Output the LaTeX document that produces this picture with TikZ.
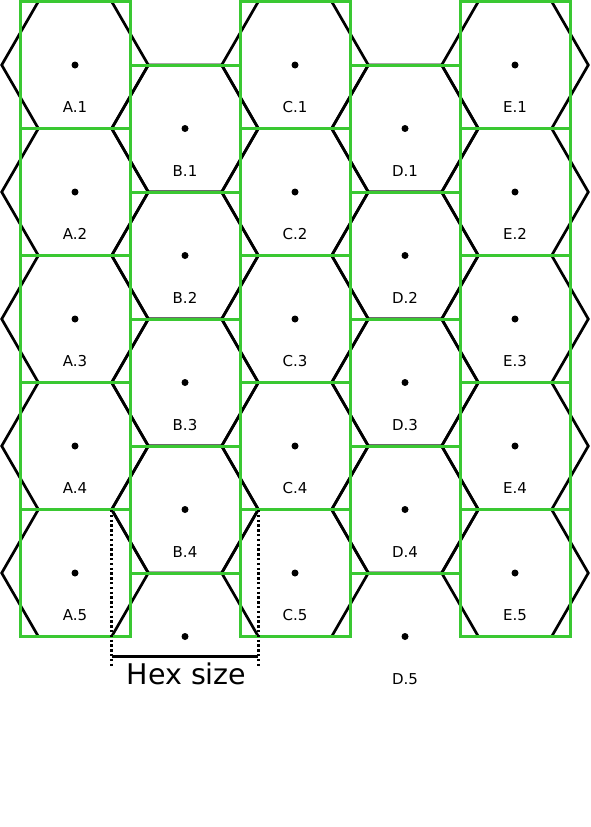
\documentclass[tikz,border=0pt]{standalone}
\usepackage{fontspec}
\setmainfont{DejaVu Sans}
\usetikzlibrary{calc}
\definecolor{gridgreen}{RGB}{58,200,50}

\begin{document}
\begin{tikzpicture}[x=1pt, y=-1pt,
    hexline/.style={draw=black, line width=2.7pt, line join=miter},
    cellbox/.style={draw=gridgreen, line width=3pt},
    centredot/.style={fill=black},
    celllabel/.style={anchor=base, inner sep=0pt, font=\fontsize{15}{17}\selectfont}]
    % Units: 1 = 1 px of the 591x827 sheet, y pointing down
    \useasboundingbox (0,0) rectangle (591,827);
    \def\hs{73.3}  % hex size, centre to corner
    \def\hh{63.5}  % half height of a hex
    \def\hw{55}    % half width of a cell box (3/4 of the hex size)

    % Hexes (black) and their cell boxes (green), column by column
    \foreach \col/\cx/\yoff/\nrow in {A/75/0/5, B/185/63.5/4, C/295/0/5, D/405/63.5/4, E/515/0/5}{
        \foreach \r in {1,...,\nrow}{
            \pgfmathsetmacro{\cy}{65+\yoff+127*(\r-1)}
            \draw[hexline] (\cx-\hs,\cy) -- (\cx-\hs/2,\cy-\hh) -- (\cx+\hs/2,\cy-\hh)
                -- (\cx+\hs,\cy) -- (\cx+\hs/2,\cy+\hh) -- (\cx-\hs/2,\cy+\hh) -- cycle;
        }
    }
    \foreach \col/\cx/\yoff/\nrow in {A/75/0/5, B/185/63.5/4, C/295/0/5, D/405/63.5/4, E/515/0/5}{
        \foreach \r in {1,...,\nrow}{
            \pgfmathsetmacro{\cy}{65+\yoff+127*(\r-1)}
            \draw[cellbox] (\cx-\hw,\cy-\hh) rectangle (\cx+\hw,\cy+\hh);
            \fill[centredot] (\cx,\cy) circle (3.5pt);
            \node[celllabel] (l\col\r) at (\cx,\cy+47.5) {\col.\r};
        }
    }

    % Centres of the last, undrawn cells in columns B and D
    \fill[centredot] (185,636.5) circle (3.5pt);
    \fill[centredot] (405,636.5) circle (3.5pt);
    \node[celllabel] (lD5) at (405,684) {D.5};

    % Hex size: from the corner of A.5 to the corner of C.5
    \coordinate (hsleft) at (75+\hs/2,510);
    \coordinate (hsright) at (295-\hs/2,510);
    \draw[line width=2.4pt, dash pattern=on 2.4pt off 2.4pt] (hsleft) -- ++(0,158);
    \draw[line width=2.4pt, dash pattern=on 2.4pt off 2.4pt] (hsright) -- ++(0,158);
    \draw[line width=2.7pt] ($(hsleft)+(0,146.5)$) -- ($(hsright)+(0,146.5)$);
    \node[anchor=base, inner sep=0pt, font=\fontsize{28.5}{32}\selectfont] (hslabel) at (186.5,684) {Hex size};
\end{tikzpicture}
\end{document}
